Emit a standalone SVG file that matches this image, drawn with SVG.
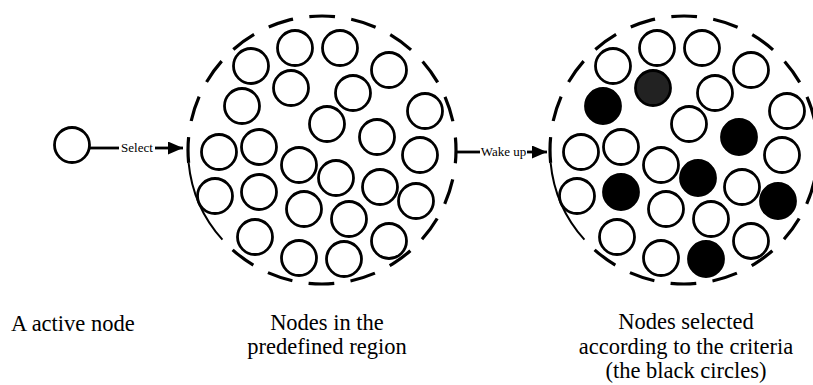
<svg xmlns="http://www.w3.org/2000/svg" xmlns:xlink="http://www.w3.org/1999/xlink" width="813" height="385" viewBox="0 0 813 385">
<style>
.n{fill:#fff;stroke:#000;stroke-width:2.8}
.b{fill:#000;stroke:#000;stroke-width:2.8}
.g{fill:#222;stroke:#000;stroke-width:2.8}
.ring{fill:none;stroke:#000;stroke-width:3.2;stroke-dasharray:25.7 16.4}
.thin{fill:none;stroke:#000;stroke-width:2}
.ln{fill:none;stroke:#000;stroke-width:2.8}
.lbl{font-family:"Liberation Serif","Times New Roman",serif;font-size:22.5px;fill:#000}
.sm{font-family:"Liberation Serif","Times New Roman",serif;font-size:13px;fill:#000;text-anchor:middle}
</style>
<defs>
<path id="ringp" d="M-133.38,12.84 A134,134 0 0 1 122.42,-54.5 A134,134 0 0 1 -99.58,89.66"/>
<path id="thinp" d="M-99.58,89.66 A134,134 0 0 1 -133.38,12.84"/>
<marker id="ah" viewBox="0 0 15 13" refX="15" refY="6.5" markerWidth="15" markerHeight="13" markerUnits="userSpaceOnUse" orient="auto">
<path d="M0,0 L15,6.5 L0,13 Z" fill="#000"/>
</marker>
</defs>
<rect width="813" height="385" fill="#fff"/>

<g id="active-node">
<circle class="n" cx="72" cy="145" r="17.5"/>
<text class="lbl" x="11" y="331">A active node</text>
</g>

<g id="predefined-region">
<use xlink:href="#ringp" class="ring" x="322" y="150"/>
<use xlink:href="#thinp" class="thin" x="322" y="150"/>
<circle class="n" cx="251" cy="66" r="17.5"/>
<circle class="n" cx="295" cy="48" r="17.5"/>
<circle class="n" cx="340" cy="48" r="17.5"/>
<circle class="n" cx="389" cy="70" r="17.5"/>
<circle class="n" cx="291" cy="88" r="17.5"/>
<circle class="n" cx="353" cy="93" r="17.5"/>
<circle class="n" cx="242" cy="106" r="17.5"/>
<circle class="n" cx="425" cy="111" r="17.5"/>
<circle class="n" cx="327" cy="124" r="17.5"/>
<circle class="n" cx="377" cy="137" r="17.5"/>
<circle class="n" cx="219" cy="152" r="17.5"/>
<circle class="n" cx="259" cy="147" r="17.5"/>
<circle class="n" cx="420" cy="155" r="17.5"/>
<circle class="n" cx="299" cy="165" r="17.5"/>
<circle class="n" cx="336" cy="178" r="17.5"/>
<circle class="n" cx="380" cy="187" r="17.5"/>
<circle class="n" cx="215" cy="196" r="17.5"/>
<circle class="n" cx="259" cy="192" r="17.5"/>
<circle class="n" cx="416" cy="201" r="17.5"/>
<circle class="n" cx="304" cy="209" r="17.5"/>
<circle class="n" cx="349" cy="219" r="17.5"/>
<circle class="n" cx="255" cy="237" r="17.5"/>
<circle class="n" cx="389" cy="241" r="17.5"/>
<circle class="n" cx="299" cy="258" r="17.5"/>
<circle class="n" cx="344" cy="259" r="17.5"/>
<text class="lbl" text-anchor="middle" x="327" y="330">Nodes in the</text>
<text class="lbl" text-anchor="middle" x="327" y="354">predefined region</text>
</g>

<g id="selected-nodes">
<use xlink:href="#ringp" class="ring" x="684" y="150"/>
<use xlink:href="#thinp" class="thin" x="684" y="150"/>
<circle class="n" cx="613" cy="66" r="17.5"/>
<circle class="n" cx="657" cy="48" r="17.5"/>
<circle class="n" cx="702" cy="48" r="17.5"/>
<circle class="n" cx="751" cy="70" r="17.5"/>
<circle class="g" cx="653" cy="88" r="17.5"/>
<circle class="n" cx="715" cy="93" r="17.5"/>
<circle class="b" cx="603" cy="106" r="17.5"/>
<circle class="n" cx="787" cy="111" r="17.5"/>
<circle class="n" cx="689" cy="124" r="17.5"/>
<circle class="b" cx="739" cy="137" r="17.5"/>
<circle class="n" cx="581" cy="152" r="17.5"/>
<circle class="n" cx="621" cy="147" r="17.5"/>
<circle class="n" cx="782" cy="155" r="17.5"/>
<circle class="n" cx="661" cy="165" r="17.5"/>
<circle class="b" cx="698" cy="178" r="17.5"/>
<circle class="n" cx="742" cy="187" r="17.5"/>
<circle class="n" cx="577" cy="196" r="17.5"/>
<circle class="b" cx="621" cy="192" r="17.5"/>
<circle class="b" cx="778" cy="201" r="17.5"/>
<circle class="n" cx="666" cy="209" r="17.5"/>
<circle class="n" cx="711" cy="219" r="17.5"/>
<circle class="n" cx="617" cy="237" r="17.5"/>
<circle class="n" cx="751" cy="241" r="17.5"/>
<circle class="n" cx="661" cy="258" r="17.5"/>
<circle class="b" cx="706" cy="259" r="17.5"/>
<text class="lbl" text-anchor="middle" x="686" y="329">Nodes selected</text>
<text class="lbl" text-anchor="middle" x="686" y="354">according to the criteria</text>
<text class="lbl" text-anchor="middle" x="686" y="378">(the black circles)</text>
</g>

<g id="connectors">
<path class="ln" d="M89.5,148 H119"/>
<path class="ln" d="M155,148 H183" marker-end="url(#ah)"/>
<text class="sm" x="137" y="152">Select</text>
<path class="ln" d="M457,152 H480"/>
<path class="ln" d="M527,152 H547" marker-end="url(#ah)"/>
<text class="sm" x="503.5" y="156">Wake up</text>
</g>
</svg>
